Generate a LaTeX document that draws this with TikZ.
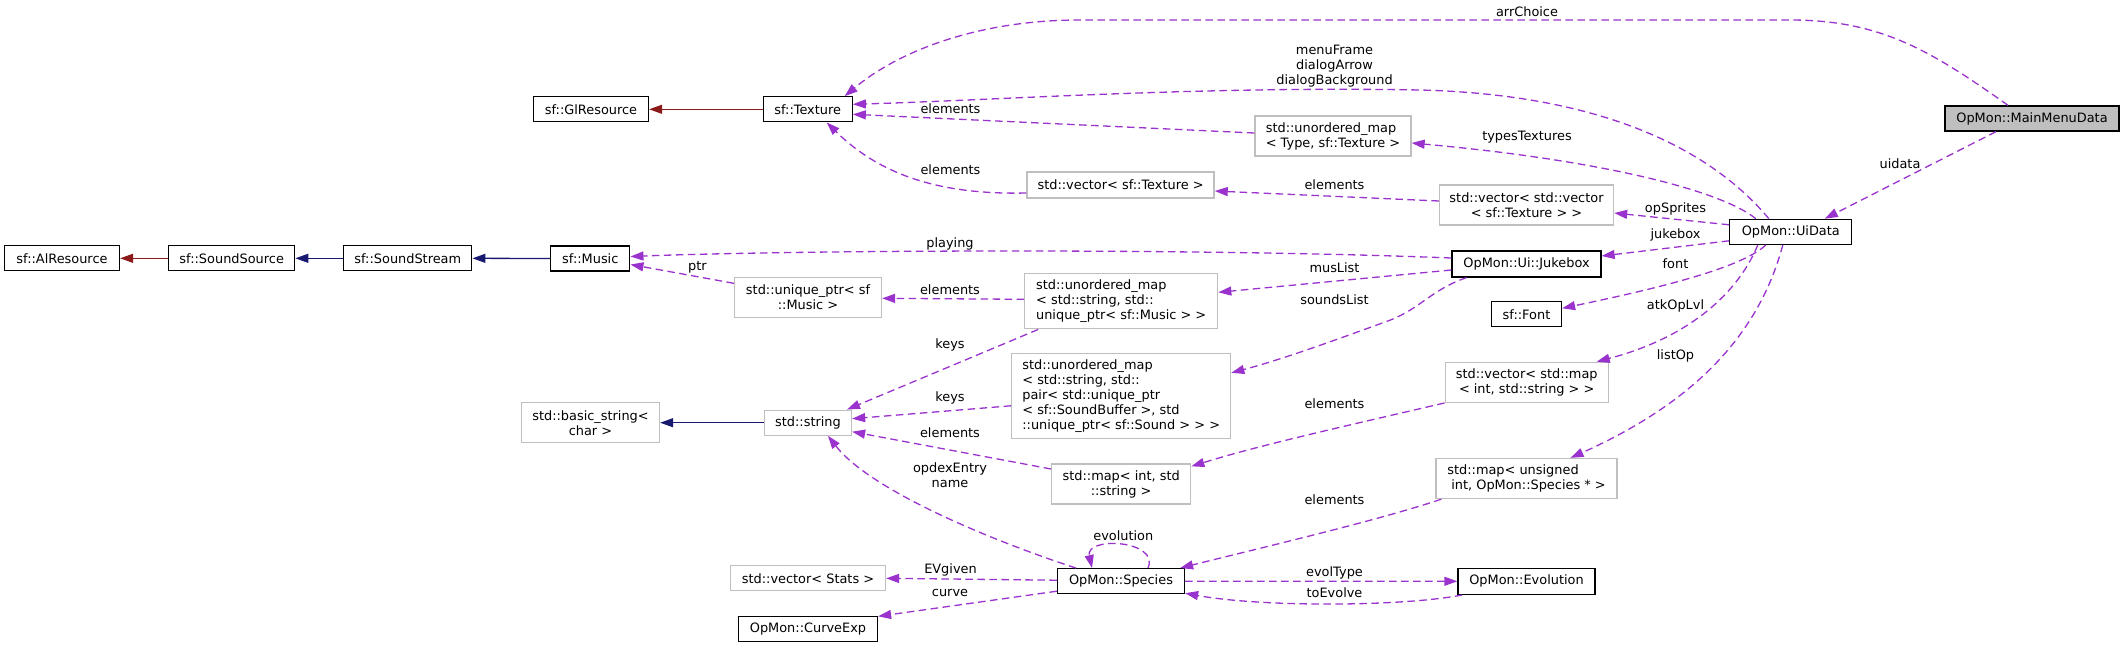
\documentclass[tikz,border=0pt]{standalone}
\usepackage{fontspec}
\setmainfont{DejaVu Sans}
\usetikzlibrary{arrows.meta}
\definecolor{depc}{HTML}{9A32CD}
\definecolor{inhred}{HTML}{8B1A1A}
\definecolor{inhblue}{HTML}{191970}
\definecolor{grey75}{HTML}{BFBFBF}
\begin{document}
\begin{tikzpicture}[x=1pt,y=-1pt,
  every node/.style={font=\fontsize{12.9pt}{15pt}\selectfont},
  cls/.style={draw=black, line width=1.3pt, fill=white, inner sep=0pt, align=center},
  ext/.style={draw=grey75, line width=1.3pt, fill=white, inner sep=0pt, align=center},
  lbl/.style={inner sep=0pt, align=center},
  dep/.style={draw=depc, line width=1.3pt, dash pattern=on 7.5pt off 4.5pt, -{Triangle[length=13pt,width=9pt]}},
  inhr/.style={draw=inhred, line width=1.3pt, -{Triangle[length=13pt,width=9pt]}},
  inhb/.style={draw=inhblue, line width=1.3pt, -{Triangle[length=13pt,width=9pt]}}]
\useasboundingbox (0,0) rectangle (2125,648);

% nodes
\node[cls, fill=grey75, minimum width=174pt, minimum height=25pt] (mmd) at (2032,118.5) {OpMon::MainMenuData};
\node[cls, minimum width=122pt, minimum height=25pt] (uidata) at (1790.8,231.8) {OpMon::UiData};
\node[cls, minimum width=89pt, minimum height=25pt] (texture) at (807.7,109.3) {sf::Texture};
\node[cls, minimum width=115pt, minimum height=25pt] (glres) at (591,109.3) {sf::GlResource};
\node[cls, minimum width=115pt, minimum height=25pt] (alres) at (62,258.3) {sf::AlResource};
\node[cls, minimum width=126pt, minimum height=25pt] (ssource) at (231.7,258.3) {sf::SoundSource};
\node[cls, minimum width=128pt, minimum height=25pt] (sstream) at (407.8,258.3) {sf::SoundStream};
\node[cls, minimum width=79pt, minimum height=25pt] (music) at (590.3,258.5) {sf::Music};
\node[ext, align=left, minimum width=156pt, minimum height=40pt] (umapType) at (1333,136) {std::unordered\_map\\< Type, sf::Texture >};
\node[ext, minimum width=187pt, minimum height=26pt] (vecTex) at (1120.6,185) {std::vector< sf::Texture >};
\node[ext, minimum width=174pt, minimum height=40pt] (vecvec) at (1526.5,205) {std::vector< std::vector\\< sf::Texture > >};
\node[cls, minimum width=149pt, minimum height=26pt] (jukebox) at (1526.5,264) {OpMon::Ui::Jukebox};
\node[cls, minimum width=70pt, minimum height=25pt] (font) at (1526.5,314.3) {sf::Font};
\node[ext, minimum width=163pt, minimum height=40pt] (vecmap) at (1526.7,382.3) {std::vector< std::map\\< int, std::string > >};
\node[ext, align=left, minimum width=181pt, minimum height=40pt] (mapUnsigned) at (1526.5,478.5) {std::map< unsigned\\\hspace*{4pt}int, OpMon::Species * >};
\node[cls, minimum width=137pt, minimum height=26pt] (evolution) at (1526.5,581.3) {OpMon::Evolution};
\node[ext, minimum width=147pt, minimum height=40pt] (uniquePtr) at (808,297.3) {std::unique\_ptr< sf\\::Music >};
\node[ext, align=left, minimum width=193pt, minimum height=55pt] (umapMusic) at (1121.2,301.3) {std::unordered\_map\\< std::string, std::\\unique\_ptr< sf::Music > >};
\node[ext, align=left, minimum width=219pt, minimum height=85pt] (umapSound) at (1121.2,395.8) {std::unordered\_map\\< std::string, std::\\pair< std::unique\_ptr\\< sf::SoundBuffer >, std\\::unique\_ptr< sf::Sound > > >};
\node[ext, minimum width=87pt, minimum height=25pt] (stdstring) at (808,422.7) {std::string};
\node[ext, minimum width=138pt, minimum height=40pt] (basicString) at (590.5,422.7) {std::basic\_string<\\char >};
\node[ext, minimum width=139pt, minimum height=40pt] (mapInt) at (1121.2,484) {std::map< int, std\\::string >};
\node[cls, minimum width=127pt, minimum height=25pt] (species) at (1121,581.2) {OpMon::Species};
\node[ext, minimum width=155pt, minimum height=25pt] (vecStats) at (808,578.3) {std::vector< Stats >};
\node[cls, minimum width=139pt, minimum height=25pt] (curveexp) at (808,629.3) {OpMon::CurveExp};

% inheritance
\draw[inhr] (texture.west) -- (glres.east);
\draw[inhr] (ssource.west) -- (alres.east);
\draw[inhb] (sstream.west) -- (ssource.east);
\draw[inhb] (music.west) -- (sstream.east);
\draw[inhb] (stdstring.west) -- (basicString.east);

% usage
\draw[dep] ([xshift=-24pt]mmd.north) .. controls (1930,50) and (1880,20) .. (1790,20) -- (1080,20) .. controls (980,20) and (900,50) .. ([xshift=37pt]texture.north);
\draw[dep] ([xshift=-22pt]uidata.north) .. controls (1720,160) and (1620,95) .. (1420,90) .. controls (1200,86) and (1000,100) .. ([yshift=5pt]texture.east);
\draw[dep] ([yshift=3pt]umapType.west) -- ([yshift=-5pt]texture.east);
\draw[dep] ([yshift=-8pt]vecTex.west) .. controls (940,195) and (880,175) .. ([xshift=19pt]texture.south);
\draw[dep] ([yshift=4pt]vecvec.west) -- ([yshift=-6pt]vecTex.east);
\draw[dep] ([xshift=-35pt]uidata.north) .. controls (1720,190) and (1600,160) .. ([yshift=-7pt]umapType.east);
\draw[dep] ([xshift=-36pt]mmd.south) -- ([xshift=34pt]uidata.north);
\draw[dep] ([yshift=7pt]uidata.west) -- ([yshift=-8pt]vecvec.east);
\draw[dep] ([yshift=-9pt]uidata.west) -- ([yshift=8pt]jukebox.east);
\draw[dep] ([xshift=-25pt]uidata.south) .. controls (1740,270) and (1640,292) .. ([yshift=6pt]font.east);
\draw[dep] ([xshift=-33pt]uidata.south) .. controls (1735,300) and (1680,340) .. ([xshift=70pt]vecmap.north);
\draw[dep] ([xshift=-8pt]uidata.south) .. controls (1760,330) and (1700,400) .. ([xshift=44pt]mapUnsigned.north);
\draw[dep] (vecmap.south west) .. controls (1350,425) and (1260,445) .. ([yshift=-3pt]mapInt.north east);
\draw[dep] ([xshift=6pt]mapUnsigned.south west) .. controls (1380,520) and (1260,548) .. ([xshift=-5pt]species.north east);
\draw[dep] (species.east) -- (evolution.west);
\draw[dep] ([xshift=5pt]evolution.south west) .. controls (1400,607) and (1260,607) .. ([yshift=-12pt]species.east);
\draw[dep] ([xshift=27pt]species.north) .. controls (1160,540) and (1085,536) .. ([xshift=-29pt]species.north);
\draw[dep] ([xshift=-45pt]species.north) .. controls (990,540) and (870,490) .. ([xshift=20pt]stdstring.south);
\draw[dep] ([yshift=1pt]species.west) -- (vecStats.east);
\draw[dep] ([yshift=-10pt]species.west) -- ([yshift=13pt]curveexp.east);
\draw[dep] ([yshift=15pt]mapInt.west) -- ([yshift=-9pt]stdstring.east);
\draw[dep] ([yshift=-10pt]umapSound.west) -- ([yshift=4pt]stdstring.east);
\draw[dep] ([xshift=-83pt]umapMusic.south) -- ([xshift=39pt]stdstring.north);
\draw[dep] ([yshift=2pt]umapMusic.west) -- ([yshift=-1pt]uniquePtr.east);
\draw[dep] ([yshift=14pt]uniquePtr.west) -- ([yshift=-6pt]music.east);
\draw[dep] ([yshift=6pt]jukebox.west) .. controls (1200,248) and (800,250) .. ([yshift=2pt]music.east);
\draw[dep] ([yshift=-6pt]jukebox.west) -- ([yshift=9pt]umapMusic.east);
\draw[dep] ([xshift=-60pt]jukebox.south) .. controls (1430,290) and (1420,310) .. (1385,322) .. controls (1330,342) and (1280,360) .. ([yshift=23pt]umapSound.east);

% labels
\node[lbl] (l1) at (1527,11.7) {arrChoice};
\node[lbl] (l2) at (1334.5,66.5) {menuFrame\\dialogArrow\\dialogBackground};
\node[lbl] (l3) at (950.5,108.3) {elements};
\node[lbl] (l4) at (950.5,170) {elements};
\node[lbl] (l5) at (1334.5,185) {elements};
\node[lbl] (l6) at (1527,137.3) {typesTextures};
\node[lbl] (l7) at (1900,163.3) {uidata};
\node[lbl] (l8) at (1675.5,209) {opSprites};
\node[lbl] (l9) at (1675.5,235) {jukebox};
\node[lbl] (l10) at (1675.5,263.3) {font};
\node[lbl] (l11) at (1675.5,306) {atkOpLvl};
\node[lbl] (l12) at (1675.5,356) {listOp};
\node[lbl] (l13) at (1334.5,403.3) {elements};
\node[lbl] (l14) at (1334.5,499.3) {elements};
\node[lbl] (l15) at (1334.5,572.7) {evolType};
\node[lbl] (l16) at (1334.5,592.7) {toEvolve};
\node[lbl] (l17) at (1123.3,535.7) {evolution};
\node[lbl] (l18) at (950,475) {opdexEntry\\name};
\node[lbl] (l19) at (950.5,570) {EVgiven};
\node[lbl] (l20) at (950,592.7) {curve};
\node[lbl] (l21) at (950,432.3) {elements};
\node[lbl] (l22) at (950,398.3) {keys};
\node[lbl] (l23) at (950,345) {keys};
\node[lbl] (l24) at (950,290) {elements};
\node[lbl] (l25) at (697.4,267.7) {ptr};
\node[lbl] (l26) at (950,244) {playing};
\node[lbl] (l27) at (1334.5,267.7) {musList};
\node[lbl] (l28) at (1334.5,300) {soundsList};
\end{tikzpicture}
\end{document}
